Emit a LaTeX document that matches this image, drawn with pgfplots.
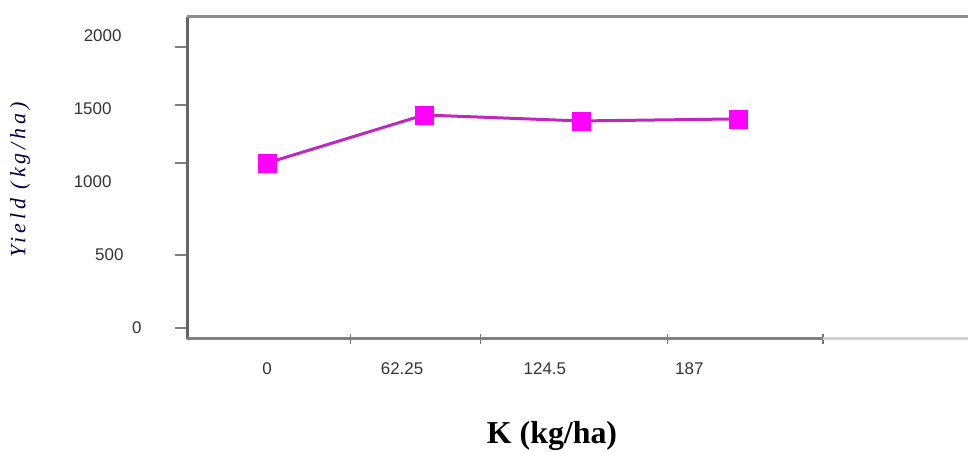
\documentclass[border=0pt]{standalone}
\usepackage{pgfplots}
\pgfplotsset{compat=1.18}
\usepackage{fontspec}
\setmainfont{Liberation Serif}
\newfontfamily\arial{Liberation Sans}
\definecolor{lineMag}{RGB}{190,40,190}
\definecolor{markMag}{RGB}{255,0,255}
\begin{document}
\begin{tikzpicture}[x=1bp,y=1bp]
\useasboundingbox (0,0) rectangle (968,453);
\begin{axis}[
  at={(187bp,114bp)}, anchor=south west,
  scale only axis, width=781bp, height=322bp,
  xmin=-0.51, xmax=4.465, ymin=-75, ymax=2130,
  axis line style={draw=none},
  tick pos=left,
  xtick={0,0.86,1.77,2.69}, xticklabels={0,62.25,124.5,187},
  ytick={0,500,1000,1500,2000},
  yticklabels={{0\hspace*{-25bp}},{500\hspace*{-2bp}},{1000\hspace*{10bp}},{1500\hspace*{10bp}},{2000}},
  major tick length=0pt,
  ticklabel style={font=\arial\fontsize{17}{17}\selectfont, text=black!80},
  xticklabel style={yshift=-20bp},
  yticklabel style={xshift=-62bp},
  extra x ticks={0.53,1.36,2.55,3.54}, extra x tick labels={},
  extra x tick style={major tick length=10bp, tick align=center, tick style={black!55, line width=1.5bp}},
  extra y ticks={0,500,1130,1527,1925}, extra y tick labels={},
  extra y tick style={major tick length=12bp, tick align=outside, tick style={black!50, line width=2bp}},
  clip=false,
]
\addplot[color=lineMag, line width=3bp, mark=square*, mark size=9bp,
  mark options={fill=markMag, draw=markMag, line width=0.5bp}]
  coordinates {(0,1130) (1,1459) (2,1418) (3,1432)};
\draw[line width=3bp, black!60] (rel axis cs:0,0) -- (rel axis cs:0,1);
\draw[line width=3bp, black!45] (rel axis cs:0,1) -- (rel axis cs:1,1);
\draw[line width=3bp, black!50] (rel axis cs:0,0) -- (axis cs:3.54,-75);
\draw[line width=3bp, black!18] (axis cs:3.54,-75) -- (rel axis cs:1,0);
\end{axis}
\node[anchor=base, font=\bfseries\fontsize{32}{32}\selectfont] at (552,9) {K (kg/ha)};
\node[rotate=90, text=black!75!blue, font=\itshape\fontsize{22}{22}\selectfont\addfontfeatures{LetterSpace=18}] at (20,273) {Yield (kg/ha)};
\end{tikzpicture}
\end{document}
